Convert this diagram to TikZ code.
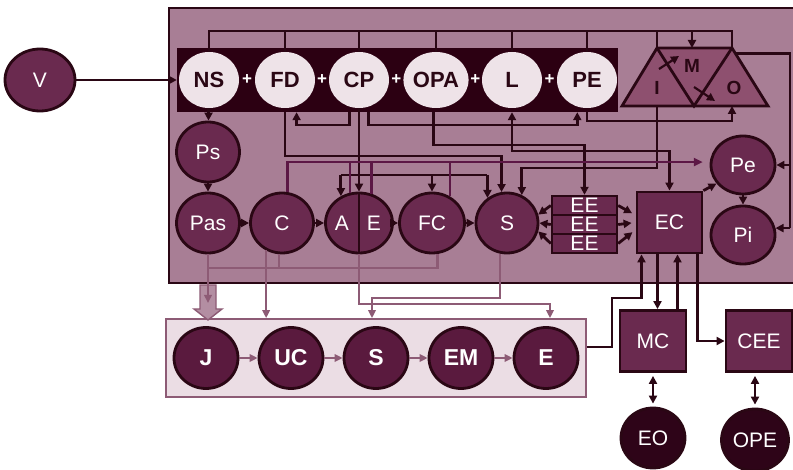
\documentclass[tikz,border=0pt]{standalone}
\usepackage{fontspec}
\setmainfont{Liberation Sans}
\usepackage{xcolor}
\usepackage{tikz}
\usetikzlibrary{shapes.geometric,arrows.meta,calc}

\definecolor{mauve}{HTML}{A87E95}
\definecolor{bandc}{HTML}{2C0012}
\definecolor{ink}{HTML}{2A0714}
\definecolor{plum}{HTML}{6A2A4F}
\definecolor{wine}{HTML}{5A1A3E}
\definecolor{pale}{HTML}{EEE3E8}
\definecolor{blush}{HTML}{EBDDE4}
\definecolor{rose}{HTML}{8D5B75}
\definecolor{fat}{HTML}{B38EA2}
\definecolor{tri}{HTML}{8E506F}
\definecolor{grape}{HTML}{5C1745}
\definecolor{night}{HTML}{2E0418}

\begin{document}
\begin{tikzpicture}[x=1pt,y=-1pt,
    wire/.style={draw=ink,line width=2.8pt},
    arr/.style={wire,-{Triangle[length=8pt,width=8pt]}},
    arrs/.style={wire,{Triangle[length=8pt,width=8pt]}-{Triangle[length=8pt,width=8pt]}},
    pinkline/.style={draw=rose,line width=2.4pt},
    pinkarr/.style={pinkline,-{Triangle[length=8pt,width=7.5pt]}},
    purline/.style={draw=grape,line width=2.4pt},
    purarr/.style={purline,-{Triangle[length=9pt,width=8pt]}},
    topc/.style={ellipse,fill=pale,minimum width=60pt,minimum height=56pt,inner sep=0pt,text=ink,font=\fontsize{22}{22}\selectfont\bfseries},
    midc/.style={ellipse,draw=ink,line width=2.8pt,fill=plum,minimum width=63pt,minimum height=60pt,inner sep=0pt,text=white,font=\fontsize{21}{21}\selectfont},
    botc/.style={midc,fill=wine,minimum width=64pt,minimum height=61pt,font=\fontsize{23}{23}\selectfont\bfseries},
    outc/.style={midc,fill=night},
    boxn/.style={rectangle,draw=ink,line width=2.8pt,fill=plum,minimum width=66pt,minimum height=61pt,inner sep=0pt,text=white,font=\fontsize{21}{21}\selectfont},
    eerow/.style={boxn,line width=2.4pt,minimum width=65pt,minimum height=19pt,font=\fontsize{21}{15}\selectfont},
    plus/.style={text=white,font=\fontsize{17}{17}\selectfont\bfseries,inner sep=0pt},
    trilbl/.style={text=ink,font=\fontsize{19}{19}\selectfont\bfseries,inner sep=0pt},
    half/.style={text=white,inner sep=0pt,font=\fontsize{21}{21}\selectfont}
  ]
  \fill[white] (0,0) rectangle (793,470);
  \useasboundingbox (0,0) rectangle (793,470);

  \draw[wire,fill=mauve] (169,8) rectangle (830,283);
  \node[fill=bandc,minimum width=441pt,minimum height=64pt,inner sep=0pt] (band) at (397.5,80) {};
  \node[draw=rose,line width=1.8pt,fill=blush,minimum width=420pt,minimum height=78pt,inner sep=0pt] (lower) at (376,358) {};

  \coordinate (fb) at (0,31);
  \coordinate (h1) at (0,121);
  \coordinate (h2) at (0,125);
  \coordinate (h3) at (0,145);
  \coordinate (h4) at (0,151);
  \coordinate (h5) at (0,156);
  \coordinate (h7) at (0,168);
  \coordinate (h8) at (0,175);
  \coordinate (h9) at (0,268);
  \coordinate (h10) at (0,304);
  \coordinate (h11) at (0,298);
  \coordinate (rx) at (790,0);
  \coordinate (kink) at (612,298);
  \coordinate (fattip) at (208,303);

  \node[topc] (NS) at (209,80) {NS};
  \node[topc] (FD) at (285,80) {FD};
  \node[topc] (CP) at (359,80) {CP};
  \node[topc] (OPA) at (436,80) {OPA};
  \node[topc] (L) at (512,80) {L};
  \node[topc] (PE) at (587,80) {PE};
  \foreach \a/\b [count=\i] in {NS/FD,FD/CP,CP/OPA,OPA/L,L/PE}
    \path (\a) -- (\b) node[midway,plus] (plus\i) {+};

  \coordinate (bl) at (622,106);
  \coordinate (tl) at (657,48);
  \coordinate (tr) at (732,48);
  \coordinate (br) at (768,106);
  \coordinate (bm) at (694,106);
  \draw[wire,fill=tri] (bl) -- (tl) -- (tr) -- (br) -- cycle;
  \draw[wire] (tl) -- (bm) -- (tr);
  \node[trilbl] (i) at (657,88) {I};
  \node[trilbl] (m) at (692,66) {M};
  \node[trilbl] (o) at (734,88) {O};
  \draw[arr,line width=2.2pt] (659,69) -- (679,56);
  \draw[arr,line width=2.2pt] (694,87) -- (715,101);

  \node[midc,minimum width=70pt,minimum height=62pt] (v) at (40,80) {V};

  \node[midc] (ps) at (208,152) {Ps};
  \node[midc] (pas) at (208,223) {Pas};
  \node[midc] (c) at (282,223) {C};
  \node[midc,minimum width=67pt] (ae) at (359,223) {};
  \draw[wire] (ae.north) -- (ae.south);
  \node[half] (a) at ([xshift=-17pt]ae.center) {A};
  \node[half] (e) at ([xshift=15pt]ae.center) {E};
  \node[midc,minimum width=65pt] (fc) at (432,223) {FC};
  \node[midc,minimum width=62pt] (s) at (507,223) {S};
  \node[eerow] (ee1) at (584.5,205.5) {EE};
  \node[eerow] (ee2) at (584.5,224.5) {EE};
  \node[eerow] (ee3) at (584.5,243.5) {EE};
  \node[boxn,minimum width=65pt] (ec) at (669.5,222.5) {EC};
  \node[midc,minimum width=64pt,minimum height=58pt] (pe) at (743,165) {Pe};
  \node[midc,minimum width=64pt,minimum height=58pt] (pi) at (743,235) {Pi};

  \node[boxn] (mc) at (653,341) {MC};
  \node[boxn] (cee) at (759,341) {CEE};
  \node[outc,minimum width=64pt] (eo) at (653,438) {EO};
  \node[outc,minimum width=67pt,minimum height=62pt] (ope) at (755,440) {OPE};

  \node[botc] (J) at (206,358) {J};
  \node[botc] (UC) at (291,358) {UC};
  \node[botc] (S) at (376,358) {S};
  \node[botc] (EM) at (461,358) {EM};
  \node[botc] (E) at (546,358) {E};
  \foreach \a/\b in {J/UC,UC/S,S/EM,EM/E}
    \draw[pinkarr] (\a) -- (\b);

  \draw[wire] (NS.north) -- (NS.north |- fb) -| (tr);
  \foreach \n in {FD,CP,OPA,L,PE}
    \draw[wire] (\n.north) -- (\n.north |- fb);
  \draw[wire] (tl) -- (tl |- fb);
  \draw[arr] (m |- fb) -- (m |- tl);

  \draw[arr] (v) -- (band.west);
  \draw[arr] (NS) -- (ps);
  \draw[arr] (ps) -- (pas);
  \foreach \a/\b in {pas/c,c/ae,ae/fc,fc/s}
    \draw[arr] (\a) -- (\b);
  \draw[arr] (CP) -- (ae);
  \draw[arr] (CP.250 |- band.south) |- (FD.294 |- h2) -- (FD.294 |- band.south);
  \draw[arr] (CP.290 |- band.south) |- (PE.250 |- h2) -- (PE.250 |- band.south);
  \draw[arr] (PE.south |- band.south) |- (tr |- h1) -- (tr |- bm);
  \draw[arr] (OPA.265 |- band.south) |- (ee1.north |- h3) -- (ee1.north);
  \draw[arrs] (L.south |- band.south) |- (ec.north |- h4) -- (ec.north);
  \draw[arr] (FD.south |- band.south) |- (s.100 |- h5) -- (s.100);
  \draw[arr] (i |- bm) |- (s.62 |- h7) -- (s.62);

  \draw[wire] (ae.124 |- h8) -- (s.128 |- h8);
  \draw[arr] (ae.124 |- h8) -- (ae.124);
  \draw[arr] (fc |- h8) -- (fc);
  \draw[arr] (s.128 |- h8) -- (s.128);

  \draw[purarr,shorten >=7pt] (c.80) |- (pe.175);
  \foreach \p in {ae.106,ae.67,fc.56}
    \draw[purline] (\p) -- (\p |- pe.175);

  \draw[wire] ($(tr)!.09!(br)$) -| (rx |- pi.12);
  \draw[arr] (rx |- pe.east) -- (pe.east);
  \draw[arr] (rx |- pi.12) -- (pi.12);

  \draw[arr] (ee1.west) -- (s.15);
  \draw[arr] (ee2.west) -- (s.east);
  \draw[arr] (ee3.west) -- (s.345);
  \draw[arr,shorten >=4pt] (ee1.east) -- (ec.168);
  \draw[arr,shorten >=4pt] (ee2.east) -- (ec.west);
  \draw[arr,shorten >=4pt] (ee3.east) -- (ec.192);
  \draw[arr] (ec.north east) -- (pe.215);
  \draw[arr] (pe) -- (pi);

  \draw[arr] ([xshift=-12pt]ec.south) -- ([xshift=-12pt]ec.south |- mc.north);
  \draw[arr] ([xshift=8pt]ec.south |- mc.north) -- ([xshift=8pt]ec.south);
  \draw[arr] ([yshift=11pt]lower.east) -| (kink) -| ([xshift=-28pt]ec.south);
  \draw[arr] ([xshift=28pt]ec.south) |- (cee.west);
  \draw[arrs,shorten >=3pt,shorten <=3pt] (mc) -- (eo);
  \draw[arrs,shorten >=3pt,shorten <=3pt] (ope |- cee.south) -- (ope);

  \filldraw[fill=fat,draw=rose,line width=1.4pt] (200,285) -- (200,309) -- (194,309) -- (208,320) -- (222,309) -- (216,309) -- (216,285) -- cycle;
  \draw[pinkarr] (pas) -- (fattip);
  \draw[pinkline] (pas.south |- h9) -| (fc.280);
  \draw[pinkline] (c.265) -- (c.265 |- h9);
  \draw[pinkarr] (c.240) -- (c.240 |- lower.north);
  \draw[pinkarr] (ae.south) |- ([xshift=4pt]E.north |- h10) -- ([xshift=4pt]E.north |- lower.north);
  \draw[pinkarr] (s.257) |- ([xshift=-4pt]S.north |- h11) -- ([xshift=-4pt]S.north |- lower.north);
\end{tikzpicture}
\end{document}
